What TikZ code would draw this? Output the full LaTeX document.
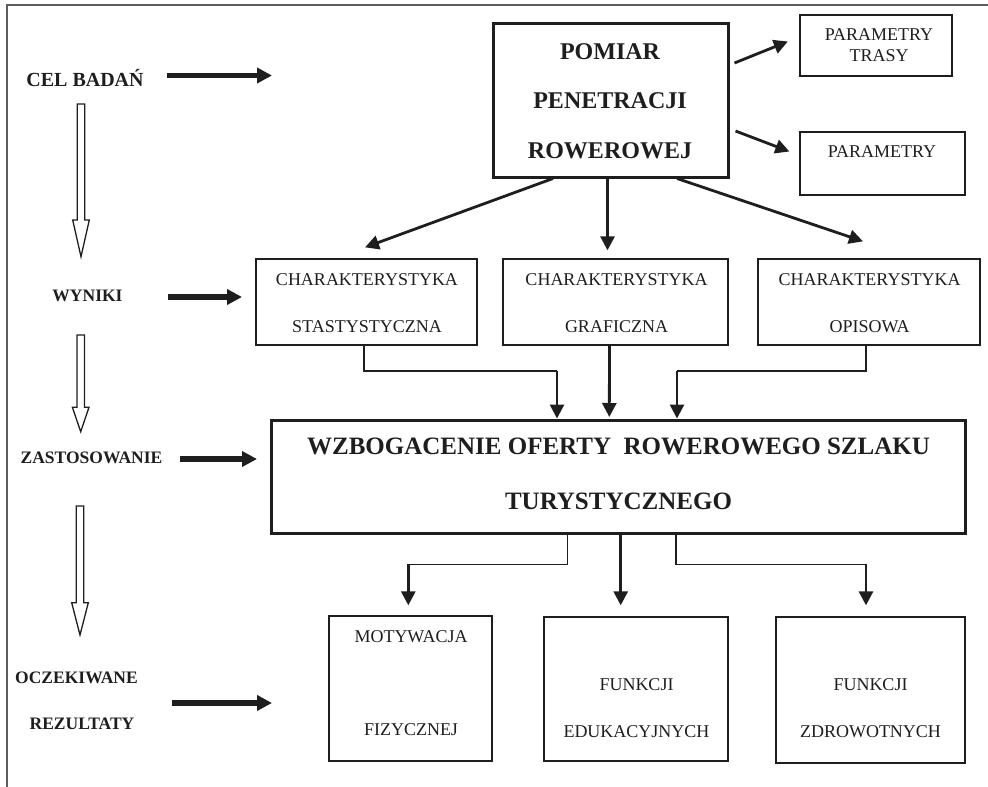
\documentclass[tikz,border=0pt]{standalone}
\usepackage{fontspec}
\setmainfont{Liberation Serif}
\usetikzlibrary{arrows.meta,calc}
\definecolor{ink}{HTML}{1E1E1E}
\definecolor{framec}{HTML}{5E5E5E}
\newcommand{\fsz}[1]{\fontsize{#1}{#1}\selectfont}
\tikzset{
  txt/.style={anchor=base, inner sep=0pt, text=ink},
  lefttxt/.style={txt, font=\bfseries\fsz{17.5}},
  celtxt/.style={txt, font=\bfseries\fsz{20}},
  boxtxt/.style={txt, font=\fsz{18}},
  bigtxt/.style={txt, font=\bfseries\fsz{24}},
  wztxt/.style={txt, font=\bfseries\fsz{25}},
  thinbox/.style={draw=ink, line width=1.3pt, inner sep=0pt, fill=white},
  thickbox/.style={draw=ink, line width=3pt, inner sep=0pt, fill=white},
  thinline/.style={draw=ink, line width=1.3pt},
  arr/.style={draw=ink, line width=2.8pt, -{Triangle[length=14pt,width=14pt]}},
  bigarr/.style={draw=ink, line width=5.5pt, -{Triangle[length=15pt,width=15pt]}},
  hollow/.style={draw=ink, line width=1.3pt, fill=white, line join=miter},
}
\begin{document}
\begin{tikzpicture}[x=1pt,y=-1pt]
\useasboundingbox (0,0) rectangle (988,787);
% frame
\draw[framec, line width=1.6pt] (7,787) -- (7,5) -- (988,5);

% ---- left column labels
\node[celtxt] (cel) at (85,86) {CEL BADAŃ};
\node[lefttxt] (wyn) at (87.5,301.5) {WYNIKI};
\node[lefttxt] (zas) at (91.5,463) {ZASTOSOWANIE};
\node[lefttxt] (ocz) at (76.5,683) {OCZEKIWANE};
\node[lefttxt] (rez) at (82,729) {REZULTATY};

% ---- boxes
\node[thickbox, minimum width=235pt, minimum height=154pt] (pom) at (610.5,100) {};
\node[thinbox, minimum width=152pt, minimum height=61pt] (ptr) at (876,45.5) {};
\node[thinbox, minimum width=165pt, minimum height=63pt] (par) at (882.5,163.5) {};
\node[thinbox, minimum width=221pt, minimum height=86pt] (stat) at (366.5,302) {};
\node[thinbox, minimum width=225pt, minimum height=86pt] (graf) at (615.5,302) {};
\node[thinbox, minimum width=222pt, minimum height=86pt] (opis) at (869,302) {};
\node[thickbox, minimum width=694pt, minimum height=113pt] (wz) at (618,476.5) {};
\node[thinbox, minimum width=163pt, minimum height=145pt] (mot) at (410.5,688.5) {};
\node[thinbox, minimum width=184pt, minimum height=144pt] (edu) at (636,689) {};
\node[thinbox, minimum width=189pt, minimum height=146pt] (zdr) at (870.5,690) {};

% ---- box texts
\node[bigtxt] (pom1) at (610,59) {POMIAR};
\node[bigtxt] (pom2) at (610,108) {PENETRACJI};
\node[bigtxt] (pom3) at (610,158) {ROWEROWEJ};
\node[boxtxt] (ptr1) at (879,40) {PARAMETRY};
\node[boxtxt] (ptr2) at (879,61.5) {TRASY};
\node[boxtxt] (par1) at (882,157) {PARAMETRY};
\node[boxtxt] (stat1) at (367,285) {CHARAKTERYSTYKA};
\node[boxtxt] (stat2) at (367,332.5) {STASTYSTYCZNA};
\node[boxtxt] (graf1) at (616.5,285) {CHARAKTERYSTYKA};
\node[boxtxt] (graf2) at (616.5,332.5) {GRAFICZNA};
\node[boxtxt] (opis1) at (869.5,285) {CHARAKTERYSTYKA};
\node[boxtxt] (opis2) at (869.5,332.5) {OPISOWA};
\node[wztxt] (wz1) at (618.5,454) {WZBOGACENIE OFERTY\ \ ROWEROWEGO SZLAKU};
\node[wztxt] (wz2) at (618.5,509) {TURYSTYCZNEGO};
\node[boxtxt] (mot1) at (411,642.5) {MOTYWACJA};
\node[boxtxt] (mot2) at (411,735.5) {FIZYCZNEJ};
\node[boxtxt] (edu1) at (636.5,690.5) {FUNKCJI};
\node[boxtxt] (edu2) at (636.5,737) {EDUKACYJNYCH};
\node[boxtxt] (zdr1) at (870.5,690.5) {FUNKCJI};
\node[boxtxt] (zdr2) at (870.5,737) {ZDROWOTNYCH};

% ---- left horizontal arrows
\coordinate (celE) at (272,75.5);
\coordinate (wynE) at (242,297);
\coordinate (zasE) at (257,459);
\coordinate (oczE) at (272,703);
\draw[bigarr] (cel.east |- celE) ++(23,0) -- (celE);
\draw[bigarr] (wyn.east |- wynE) ++(45,0) -- (wynE);
\draw[bigarr] (zas.east |- zasE) ++(17,0) -- (zasE);
\draw[bigarr] (ocz.east |- oczE) ++(34,0) -- (oczE);

% ---- hollow down arrows
\foreach \xc/\ys/\yh/\yt in {81/104/220/256.7, 80.7/335/407.3/431.7, 80/506/602.7/635}{
  \draw[hollow] (\xc-3.7,\ys) -- (\xc+3.7,\ys) -- (\xc+3.7,\yh) -- (\xc+8.3,\yh)
     -- (\xc,\yt) -- (\xc-8.3,\yh) -- (\xc-3.7,\yh) -- cycle;
}

% ---- arrows from POMIAR
\draw[arr] ($(pom.east)+(5,-37)$) -- ($(ptr.west)+(-11.5,-4)$);
\draw[arr] ($(pom.east)+(6,31)$) -- ($(par.west)+(-10,-12)$);
\draw[arr] ($(pom.south)+(-57.5,0)$) -- ($(stat.north)+(-1.5,-11)$);
\draw[arr] ($(pom.south)+(-3,0)$) -- ($(graf.north)+(-8,-8)$);
\draw[arr] ($(pom.south)+(66.5,0)$) -- ($(opis.north)+(-6,-17)$);

% ---- from characteristic boxes to WZ
\coordinate (k1) at (557,371);
\coordinate (k3) at (677,371);
\draw[thinline] ($(stat.south)+(-2.5,0)$) |- (k1);
\draw[arr] (k1) -- (k1 |- wz.north);
\draw[arr] ($(graf.south)+(-6,0)$) -- ($(wz.north)+(-8.7,-1.5)$);
\draw[thinline] ($(opis.south)+(-3,0)$) |- (k3);
\draw[arr] (k3) -- (k3 |- wz.north);

% ---- from WZ to bottom boxes
\coordinate (m1) at (408.3,564.3);
\coordinate (m3) at (866,564.3);
\draw[thinline] ($(wz.south)+(-50.3,0)$) |- (m1);
\draw[arr] (m1) -- ($(m1 |- mot.north)+(0,-10)$);
\draw[arr] ($(wz.south)+(2.7,0)$) -- ($(edu.north)+(-15.3,-11)$);
\draw[thinline] ($(wz.south)+(58,0)$) |- (m3);
\draw[arr] (m3) -- ($(m3 |- zdr.north)+(0,-11)$);
\end{tikzpicture}
\end{document}
